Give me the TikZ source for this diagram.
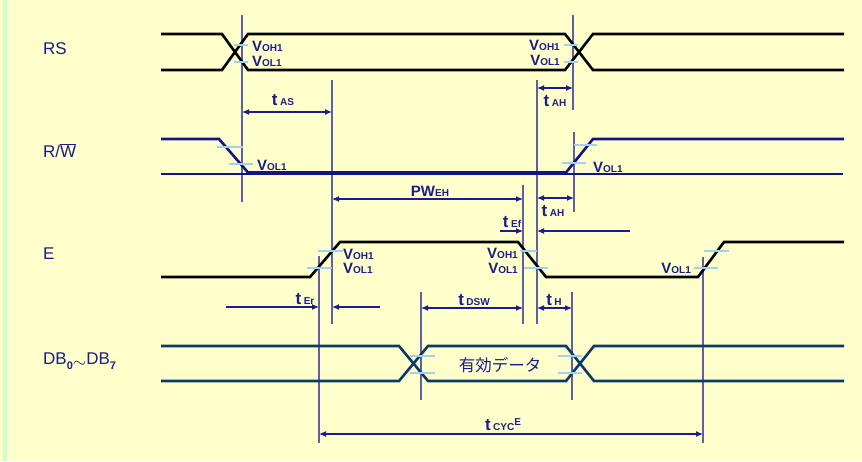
\documentclass[tikz,border=0pt]{standalone}
\usepackage{fontspec}
\setmainfont{Liberation Sans}
\newfontfamily\jpfont{Noto Sans CJK JP}
\usetikzlibrary{arrows.meta}
\definecolor{bgc}{HTML}{FFFFCC}
\definecolor{stripc}{HTML}{CCFFCC}
\definecolor{txtc}{HTML}{1C1C8A}
\definecolor{rwc}{HTML}{12128A}
\definecolor{dbc}{HTML}{0B3A68}
\definecolor{guidec}{HTML}{5F5FA8}
\definecolor{tickc}{HTML}{A4D0F0}
\newcommand{\lo}[1]{{\fontsize{10}{10}\selectfont\bfseries #1}}
\newcommand{\vlab}[1]{\textbf{V}\lo{#1}}
\newcommand{\tlab}[1]{{\fontsize{17}{18}\selectfont\bfseries t}\,\lo{#1}}
\tikzset{
  sig/.style={line width=2.6pt, black},
  rwsig/.style={line width=2.6pt, rwc},
  dbsig/.style={line width=2.6pt, dbc},
  guide/.style={line width=1.2pt, guidec},
  dim/.style={line width=1.2pt, txtc},
  tickmark/.style={line width=1.3pt, tickc},
  lbl/.style={inner sep=0pt, text=txtc, font=\fontsize{15}{16}\selectfont},
  signame/.style={inner sep=0pt, text=txtc, font=\fontsize{17}{20}\selectfont, anchor=west}
}
\begin{document}
\begin{tikzpicture}[x=1pt, y=-1pt, >={Latex[length=7pt,width=6pt]}]
  \fill[bgc] (0,0) rectangle (862,461) ;
  \fill[stripc] (3,0) rectangle (7,461) ;
  \useasboundingbox (0,0) rectangle (862,461) ;

  % guide lines
  \draw[guide] (242,15) -- (242,202) ;
  \draw[guide] (573,15) -- (573,110) ;
  \draw[guide] (332,80) -- (332,324) ;
  \draw[guide] (537,80) -- (537,324) ;
  \draw[guide] (574,132) -- (574,212) ;
  \draw[guide] (523,185) -- (523,324) ;
  \draw[guide] (319,256) -- (319,443) ;
  \draw[guide] (703,257) -- (703,443) ;
  \draw[guide] (421,292) -- (421,400) ;
  \draw[guide] (572,292) -- (572,400) ;

  % RS
  \node[signame] (rs) at (43,49) {RS} ;
  \draw[sig] (161,34) -- (222,34) -- (248,70) -- (565,70) -- (593,34) -- (844,34) ;
  \draw[sig] (161,70) -- (222,70) -- (248,34) -- (565,34) -- (593,70) -- (844,70) ;
  \draw[tickmark] (234,45) -- (248,45) (234,62) -- (248,62) ;
  \draw[tickmark] (564,45) -- (578,45) (564,62) -- (578,62) ;
  \node[lbl, anchor=west] (rsoh) at (252,46.5) {\vlab{OH1}} ;
  \node[lbl, anchor=west] (rsol) at (252,61) {\vlab{OL1}} ;
  \node[lbl, anchor=east] (rsohr) at (560,45.5) {\vlab{OH1}} ;
  \node[lbl, anchor=east] (rsolr) at (560,60) {\vlab{OL1}} ;

  % R/W
  \node[signame] (rw) at (43,151) {R/$\overline{\mbox{W}}$} ;
  \draw[rwc, line width=1.2pt] (161,174) -- (843,174) ;
  \draw[rwsig] (161,139) -- (219,139) -- (248,172.5) -- (566,172.5) -- (593,139) -- (844,139) ;
  \draw[tickmark] (217,147) -- (243,147) (229,164) -- (253,164) ;
  \draw[tickmark] (574,145) -- (597,145) (562,163) -- (586,163) ;
  \node[lbl, anchor=west] (rwol) at (257,165) {\vlab{OL1}} ;
  \node[lbl, anchor=west] (rwolr) at (593,167) {\vlab{OL1}} ;

  % E
  \node[signame] (en) at (43,254) {E} ;
  \draw[sig] (161,277) -- (310,277) -- (340,242) -- (518,242) -- (546,277) -- (698,277) -- (724,242) -- (844,242) ;
  \draw[tickmark] (318,251) -- (343,251) (307,268) -- (332,268) ;
  \draw[tickmark] (520,251) -- (537,251) (524,268) -- (548,268) ;
  \draw[tickmark] (704,251) -- (729,251) (694,268) -- (718,268) ;
  \node[lbl, anchor=west] (eoh) at (343,254) {\vlab{OH1}} ;
  \node[lbl, anchor=west] (eol) at (343,268) {\vlab{OL1}} ;
  \node[lbl, anchor=east] (eohr) at (518,253) {\vlab{OH1}} ;
  \node[lbl, anchor=east] (eolr) at (518,268) {\vlab{OL1}} ;
  \node[lbl, anchor=east] (eol2) at (691,268) {\vlab{OL1}} ;

  % DB0~DB7
  \node[signame] (db) at (43,361) {DB\raisebox{-5pt}{\fontsize{11}{12}\selectfont\bfseries 0}\raisebox{-3pt}{$\sim$}DB\raisebox{-5pt}{\fontsize{11}{12}\selectfont\bfseries 7}} ;
  \draw[dbsig] (161,346) -- (399,346) -- (428,381) -- (566,381) -- (594,346) -- (844,346) ;
  \draw[dbsig] (161,381) -- (399,381) -- (428,346) -- (566,346) -- (594,381) -- (844,381) ;
  \draw[tickmark] (410,356) -- (435,356) (410,373) -- (435,373) ;
  \draw[tickmark] (558,356) -- (582,356) (558,373) -- (582,373) ;
  \node[inner sep=0pt, text=txtc, font=\jpfont\fontsize{16.5}{18}\selectfont] (data) at (500,365) {有効データ} ;

  % timing dimensions
  \draw[dim, <->] (242,112) -- (332,112) ;
  \node[lbl] (tas) at (283,100) {\tlab{AS}} ;
  \draw[dim, <->] (537,88) -- (573,88) ;
  \node[lbl] (tah) at (555,101) {\tlab{AH}} ;
  \draw[dim, <->] (332,199) -- (523,199) ;
  \node[lbl] (pweh) at (430,191) {\textbf{PW}\lo{EH}} ;
  \draw[dim, <->] (537,198) -- (574,198) ;
  \node[lbl] (tah2) at (553,211) {\tlab{AH}} ;
  \draw[dim, ->] (500,231) -- (523,231) ;
  \draw[dim, ->] (630,231) -- (537,231) ;
  \node[lbl] (tef) at (512,222) {\tlab{Ef}} ;
  \draw[dim, ->] (226,307) -- (319,307) ;
  \draw[dim, ->] (380,307) -- (332,307) ;
  \node[lbl] (ter) at (305,299) {\tlab{Er}} ;
  \draw[dim, <->] (421,308) -- (523,308) ;
  \node[lbl] (tdsw) at (474,300) {\tlab{DSW}} ;
  \draw[dim, <->] (537,308) -- (572,308) ;
  \node[lbl] (th) at (554,300) {\tlab{H}} ;
  \draw[dim, <->] (319,434) -- (703,434) ;
  \node[lbl] (tcyc) at (503,425) {\tlab{CYC}\raisebox{5pt}{\lo{E}}} ;
\end{tikzpicture}
\end{document}
